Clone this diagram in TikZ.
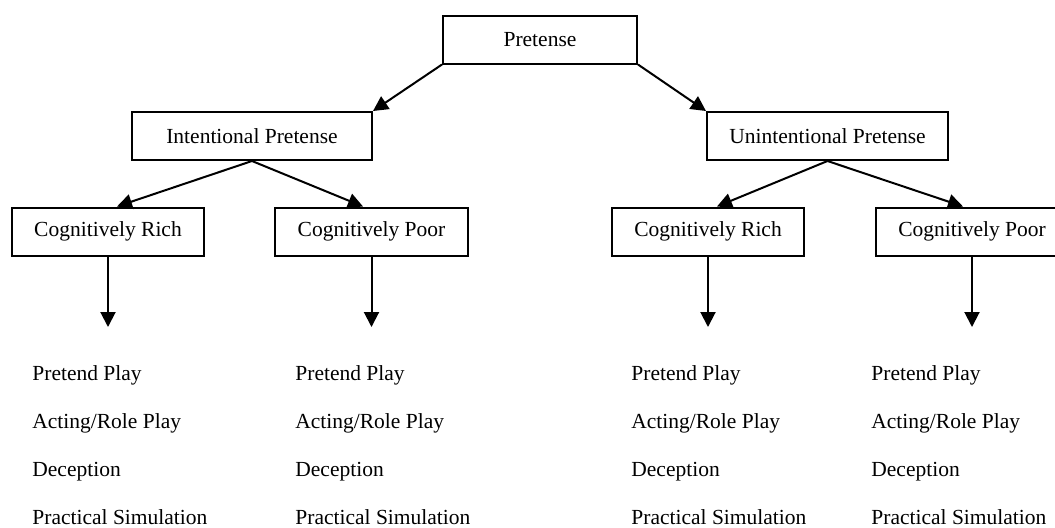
\documentclass[tikz,border=0pt]{standalone}
\usepackage{fontspec}
\setmainfont{Liberation Serif}
\usetikzlibrary{arrows.meta}

\tikzset{
  BoxStyle/.style  = {draw, rectangle, line width=1pt, inner sep=0pt,
                      minimum height=24pt,
                      font=\fontsize{10.75}{12}\selectfont},
  ItemStyle/.style = {anchor=base west, inner sep=0pt,
                      font=\fontsize{10.75}{12}\selectfont},
  EdgeStyle/.style = {line width=1pt, -{Triangle[length=7.5pt,width=7.5pt]}}
}

\begin{document}
\begin{tikzpicture}[x=0.5pt, y=-0.5pt]
\clip (0,0) rectangle (1055,527);

% level 0
\node[BoxStyle, minimum width=97pt] (Pretense) at (540,39.5) {Pretense};

% level 1
\node[BoxStyle, minimum width=120pt]   (IntPret)   at (252,136)   {Intentional Pretense};
\node[BoxStyle, minimum width=120.5pt] (UnintPret) at (827.5,136) {Unintentional Pretense};

% level 2
\node[BoxStyle, minimum width=96pt]   (IntRich)   at (108,231.5)   {Cognitively Rich};
\node[BoxStyle, minimum width=96.5pt] (IntPoor)   at (371.5,231.5) {Cognitively Poor};
\node[BoxStyle, minimum width=96pt]   (UnintRich) at (708,231.5)   {Cognitively Rich};
\node[BoxStyle, minimum width=96.5pt] (UnintPoor) at (972,231.5)   {Cognitively Poor};

% arrow ends
\coordinate (IntRichEnd)   at (108,327);
\coordinate (IntPoorEnd)   at (371.5,327);
\coordinate (UnintRichEnd) at (708,327);
\coordinate (UnintPoorEnd) at (972,327);

% lists
\node[ItemStyle] (IntRichA) at (32,380) {Pretend Play};
\node[ItemStyle] (IntRichB) at (32,428) {Acting/Role Play};
\node[ItemStyle] (IntRichC) at (32,476) {Deception};
\node[ItemStyle] (IntRichD) at (32,524) {Practical Simulation};

\node[ItemStyle] (IntPoorA) at (295,380) {Pretend Play};
\node[ItemStyle] (IntPoorB) at (295,428) {Acting/Role Play};
\node[ItemStyle] (IntPoorC) at (295,476) {Deception};
\node[ItemStyle] (IntPoorD) at (295,524) {Practical Simulation};

\node[ItemStyle] (UnintRichA) at (631,380) {Pretend Play};
\node[ItemStyle] (UnintRichB) at (631,428) {Acting/Role Play};
\node[ItemStyle] (UnintRichC) at (631,476) {Deception};
\node[ItemStyle] (UnintRichD) at (631,524) {Practical Simulation};

\node[ItemStyle] (UnintPoorA) at (871,380) {Pretend Play};
\node[ItemStyle] (UnintPoorB) at (871,428) {Acting/Role Play};
\node[ItemStyle] (UnintPoorC) at (871,476) {Deception};
\node[ItemStyle] (UnintPoorD) at (871,524) {Practical Simulation};

% edges
\draw[EdgeStyle] (Pretense.south west) -- (IntPret.north east);
\draw[EdgeStyle] (Pretense.south east) -- (UnintPret.north west);
\draw[EdgeStyle] (IntPret.south)   -- ([xshift=4.5pt]IntRich.north);
\draw[EdgeStyle] (IntPret.south)   -- ([xshift=-4.25pt]IntPoor.north);
\draw[EdgeStyle] (UnintPret.south) -- ([xshift=4.5pt]UnintRich.north);
\draw[EdgeStyle] (UnintPret.south) -- ([xshift=-4.5pt]UnintPoor.north);
\draw[EdgeStyle] (IntRich.south)   -- (IntRichEnd);
\draw[EdgeStyle] (IntPoor.south)   -- (IntPoorEnd);
\draw[EdgeStyle] (UnintRich.south) -- (UnintRichEnd);
\draw[EdgeStyle] (UnintPoor.south) -- (UnintPoorEnd);

\end{tikzpicture}
\end{document}
